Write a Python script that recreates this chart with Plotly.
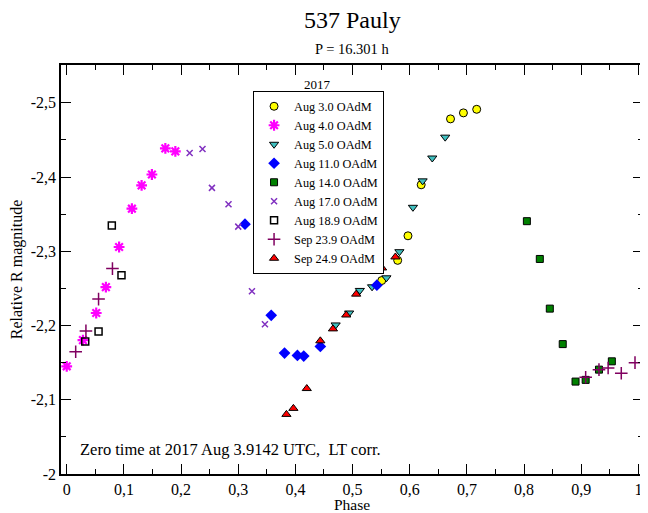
import plotly.graph_objects as go

# phase / relative R magnitude for each session
aug03_phase = [0.551, 0.5789, 0.5969, 0.620, 0.6713, 0.6939, 0.7171]
aug03_mag = [-2.2606, -2.2878, -2.3209, -2.3896, -2.4784, -2.4865, -2.4913]

aug04_phase = [0.0, 0.0284, 0.0516, 0.0685, 0.0916, 0.114, 0.131, 0.149, 0.1725, 0.190]
aug04_mag = [-2.1451, -2.1803, -2.2169, -2.2517, -2.3058, -2.3574, -2.3888, -2.4035, -2.4387, -2.4347]

aug05_phase = [0.4704, 0.494, 0.5127, 0.5341, 0.5592, 0.5819, 0.6056, 0.6225, 0.6394, 0.662]
aug05_mag = [-2.2008, -2.2169, -2.2473, -2.2522, -2.2643, -2.2995, -2.3593, -2.3949, -2.4257, -2.4538]

aug11_phase = [0.3118, 0.3577, 0.381, 0.4035, 0.4146, 0.4436, 0.5425]
aug11_mag = [-2.3365, -2.2138, -2.1629, -2.1598, -2.1589, -2.1719, -2.2544]

aug14_phase = [0.8049, 0.8275, 0.845, 0.8676, 0.890, 0.9077, 0.931, 0.9535]
aug14_mag = [-2.3406, -2.2897, -2.2228, -2.175, -2.1245, -2.1268, -2.1406, -2.1518]

aug17_phase = [0.215, 0.2375, 0.254, 0.283, 0.300, 0.324, 0.3467]
aug17_mag = [-2.4324, -2.4378, -2.3855, -2.3633, -2.3333, -2.2463, -2.2017]

aug189_phase = [0.0324, 0.0557, 0.0789, 0.0958]
aug189_mag = [-2.1786, -2.1920, -2.3347, -2.2677]

sep239_phase = [0.0157, 0.0336, 0.0557, 0.080, 0.9077, 0.931, 0.947, 0.970, 0.994]
sep239_mag = [-2.1647, -2.1928, -2.2356, -2.2767, -2.1304, -2.1406, -2.1428, -2.1357, -2.1500]

sep249_phase = [0.3843, 0.3965, 0.4199, 0.4436, 0.4657, 0.4889, 0.5063, 0.5516, 0.5749]
sep249_mag = [-2.0803, -2.0884, -2.1151, -2.1794, -2.1955, -2.2142, -2.2423, -2.2776, -2.2924]

x_ticks = [0, 0.1, 0.2, 0.3, 0.4, 0.5, 0.6, 0.7, 0.8, 0.9, 1]
x_labels = ["0", "0,1", "0,2", "0,3", "0,4", "0,5", "0,6", "0,7", "0,8", "0,9", "1"]
y_ticks = [-2.5, -2.4, -2.3, -2.2, -2.1, -2.0]
y_labels = ["-2,5", "-2,4", "-2,3", "-2,2", "-2,1", "-2"]

FONT = "Liberation Serif, Times New Roman, serif"

series = [
    ("Aug 3.0 OAdM", aug03_phase, aug03_mag,
     dict(symbol="circle", size=8, color="#ffff00", line=dict(color="black", width=1))),
    ("Aug 4.0 OAdM", aug04_phase, aug04_mag,
     dict(symbol="asterisk-open", size=9, color="#ff00ff", line=dict(color="#ff00ff", width=2.2))),
    ("Aug 5.0 OAdM", aug05_phase, aug05_mag,
     dict(symbol="triangle-down", size=8, color="#40c0c0", line=dict(color="black", width=1))),
    ("Aug 11.0 OAdM", aug11_phase, aug11_mag,
     dict(symbol="diamond", size=9, color="#0000ff", line=dict(color="#0000ff", width=0))),
    ("Aug 14.0 OAdM", aug14_phase, aug14_mag,
     dict(symbol="square", size=7, color="#008000", line=dict(color="black", width=1))),
    ("Aug 17.0 OAdM", aug17_phase, aug17_mag,
     dict(symbol="x-thin-open", size=6, color="#8030c0", line=dict(color="#8030c0", width=1.5))),
    ("Aug 18.9 OAdM", aug189_phase, aug189_mag,
     dict(symbol="square-open", size=7, color="black", line=dict(color="black", width=1.5))),
    ("Sep 23.9 OAdM", sep239_phase, sep239_mag,
     dict(symbol="cross-thin-open", size=9, color="#800060", line=dict(color="#800060", width=1.5))),
    ("Sep 24.9 OAdM", sep249_phase, sep249_mag,
     dict(symbol="triangle-up", size=8, color="#ff0000", line=dict(color="black", width=1))),
]

fig = go.Figure()
for name, xs, ys, marker in series:
    fig.add_trace(go.Scatter(x=xs, y=ys, mode="markers", name=name, marker=marker))

axis_common = dict(
    showline=True, linecolor="black", linewidth=1.5, mirror="ticks",
    ticks="inside", ticklen=10, tickwidth=1, tickcolor="black",
    showgrid=False, zeroline=False,
    tickfont=dict(family=FONT, size=16, color="black"),
    minor=dict(ticks="inside", ticklen=5, tickcolor="black"),
)

fig.update_xaxes(
    range=[-0.01, 1.008], tickvals=x_ticks, ticktext=x_labels,
    title=dict(text="Phase", font=dict(family=FONT, size=15.5, color="black"), standoff=1),
    **axis_common,
)
fig.update_xaxes(minor_dtick=0.05)
fig.update_yaxes(
    range=[-2.0, -2.551], tickvals=y_ticks, ticktext=y_labels,
    title=dict(text="Relative R magnitude", font=dict(family=FONT, size=16, color="black"), standoff=4),
    **axis_common,
)
fig.update_yaxes(minor_dtick=0.05)

# the page body has an 8px margin, so the figure is a bit smaller than the window
fig.update_layout(
    width=640, height=505,
    margin=dict(l=53, r=3, t=57, b=36),
    paper_bgcolor="white", plot_bgcolor="white",
    font=dict(family=FONT, color="black"),
    showlegend=True,
    legend=dict(
        x=0.33, y=0.937, xanchor="left", yanchor="top",
        bordercolor="black", borderwidth=1, bgcolor="white",
        font=dict(family=FONT, size=12.3, color="black"),
        tracegroupgap=0, itemsizing="trace",
    ),
)

plot_h = 505 - 57 - 36
fig.add_annotation(text="537 Pauly", x=0.5, y=1 + (65 - 20) / plot_h, xref="paper", yref="paper",
                   yanchor="middle", showarrow=False, font=dict(family=FONT, size=24))
fig.add_annotation(text="P = 16.301 h", x=0.5, y=1 + (65 - 49) / plot_h, xref="paper", yref="paper",
                   yanchor="middle", showarrow=False, font=dict(family=FONT, size=14.5))
fig.add_annotation(text="2017", x=(318 - 61) / 584, y=(477 - 85) / plot_h, xref="paper", yref="paper",
                   yanchor="middle", showarrow=False, font=dict(family=FONT, size=13))
fig.add_annotation(text="Zero time at 2017 Aug 3.9142 UTC,  LT corr.", x=(78 - 61) / 584,
                   y=(477 - 452) / plot_h, xref="paper", yref="paper", xanchor="left",
                   yanchor="middle", showarrow=False, font=dict(family=FONT, size=16.5))

fig.write_html("out.html")
